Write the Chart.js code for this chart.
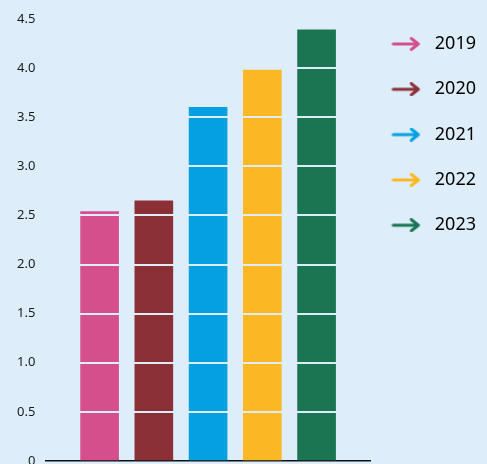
<!DOCTYPE html>
<html>
<head>
<meta charset="utf-8">
<script src="https://cdn.jsdelivr.net/npm/chart.js@4"></script>
<style>
  body { margin: 0; background: #DDEEFA; }
  #wrap { width: 487px; height: 464px; position: relative; }
</style>
</head>
<body>
<div id="wrap"><canvas id="chart"></canvas></div>
<script>
const years = ["2019", "2020", "2021", "2022", "2023"];
const values = [2.54, 2.65, 3.6, 3.98, 4.39];
const colors = ["#D54F8D", "#8C3038", "#05A0E1", "#FBB822", "#1B7452"];
const yTicks = [0, 0.5, 1, 1.5, 2, 2.5, 3, 3.5, 4, 4.5];
const bgColor = "#DDEEFA";

// arrow icon for the legend
const makeArrow = (color) => {
  const c = document.createElement("canvas");
  c.width = 30;
  c.height = 14;
  const g = c.getContext("2d");
  g.strokeStyle = color;
  g.lineWidth = 3;
  g.lineCap = "round";
  g.lineJoin = "round";
  g.beginPath();
  g.moveTo(2, 7);
  g.lineTo(27, 7);
  g.moveTo(20, 1.5);
  g.lineTo(27, 7);
  g.lineTo(20, 12.5);
  g.stroke();
  return c;
};

// empty slot on each side so the axis line runs past the bars
const labels = [""].concat(years, [""]);
const data = [null].concat(values, [null]);
const barColors = ["transparent"].concat(colors, ["transparent"]);

const ctx = document.getElementById("chart").getContext("2d");
new Chart(ctx, {
  type: "bar",
  data: {
    labels: labels,
    datasets: [{
      data: data,
      backgroundColor: barColors,
      borderWidth: 0,
      barThickness: 38,
    }]
  },
  options: {
    responsive: true,
    maintainAspectRatio: false,
    animation: false,
    layout: { padding: { top: 19, bottom: 3, left: 7, right: 1 } },
    scales: {
      x: {
        offset: false,
        grid: { display: false, drawTicks: false },
        ticks: { display: false },
        border: { display: true, color: "#111", width: 1.5 },
      },
      y: {
        min: 0,
        max: 4.5,
        afterFit: (scale) => {
          scale.paddingTop = 0;
          scale.paddingBottom = 0;
        },
        afterBuildTicks: (scale) => {
          scale.ticks = yTicks.map((v) => ({ value: v }));
        },
        border: { display: false },
        grid: {
          z: 1,
          drawTicks: false,
          lineWidth: 2,
          color: (c) => (c.tick && c.tick.value === 0 ? "transparent" : bgColor),
        },
        ticks: {
          padding: 10,
          color: "#1a1a1a",
          font: { family: "Noto Sans", size: 13 },
          callback: (v) => (v === 0 ? "0" : v.toFixed(1)),
        },
      },
    },
    plugins: {
      tooltip: { enabled: false },
      legend: {
        position: "right",
        align: "start",
        labels: {
          usePointStyle: true,
          pointStyleWidth: 39,
          padding: 16,
          textAlign: "left",
          color: "#111",
          font: { family: "Noto Sans", size: 18, lineHeight: "29.3px" },
          generateLabels: () => years.map((y, i) => ({
            text: [y],
            fillStyle: colors[i],
            strokeStyle: colors[i],
            lineWidth: 0,
            pointStyle: makeArrow(colors[i]),
            hidden: false,
            index: i,
            datasetIndex: 0,
          })),
        },
      },
    },
  },
});
</script>
</body>
</html>
